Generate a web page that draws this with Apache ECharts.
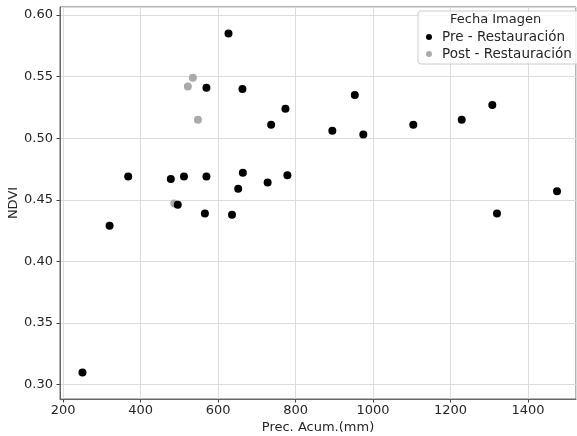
<!DOCTYPE html>
<html>
<head>
<meta charset="utf-8">
<script src="https://cdn.jsdelivr.net/npm/echarts@6/dist/echarts.min.js"></script>
<style>
  html, body { margin: 0; padding: 0; background: #fff; }
  #chart { width: 577px; height: 436px; }
</style>
</head>
<body>
<div id="chart"></div>
<script>
// Pre - Restauración: [Prec. Acum.(mm), NDVI]
var prePrec = [250, 320, 368, 478, 496, 512, 566, 570, 570, 627, 636, 652, 663, 664, 728, 737, 774, 779, 895, 953, 975, 1104, 1229, 1308, 1320, 1475];
var preNdvi = [0.310, 0.429, 0.469, 0.467, 0.446, 0.469, 0.439, 0.469, 0.541, 0.585, 0.438, 0.459, 0.540, 0.472, 0.464, 0.511, 0.524, 0.470, 0.506, 0.535, 0.503, 0.511, 0.515, 0.527, 0.439, 0.457];
// Post - Restauración
var postPrec = [487, 522, 535, 548];
var postNdvi = [0.447, 0.542, 0.549, 0.515];

var seriesNames = ['Pre - Restauración', 'Post - Restauración'];

function pairs(xs, ys) {
    var out = [];
    for (var i = 0; i < xs.length; i++) {
        out.push([xs[i], ys[i]]);
    }
    return out;
}

var fontFam = 'DejaVu Sans';
var txtColor = '#262626';

var myChart = echarts.init(document.getElementById('chart'));
var option = {
    animation: false,
    textStyle: { fontFamily: fontFam },
    title: {
        text: 'Fecha Imagen',
        left: 450,
        top: 13,
        padding: 0,
        textStyle: { fontFamily: fontFam, fontSize: 13, fontWeight: 'normal', color: txtColor }
    },
    legend: {
        data: seriesNames,
        orient: 'vertical',
        left: 418,
        top: 11,
        padding: [19, 10, 3, 8],
        itemGap: 3,
        itemWidth: 6,
        itemHeight: 6,
        icon: 'circle',
        backgroundColor: 'rgba(255,255,255,0.8)',
        borderColor: '#cccccc',
        borderWidth: 1,
        borderRadius: 3,
        textStyle: { fontFamily: fontFam, fontSize: 13.5, color: txtColor, lineHeight: 14, padding: [0, 0, 0, 5] }
    },
    grid: {
        left: 60,
        right: 1,
        top: 7,
        bottom: 37,
        outerBoundsMode: 'none',
        containLabel: false,
        show: true,
        borderColor: '#666',
        borderWidth: 1
    },
    xAxis: {
        type: 'value',
        min: 192,
        max: 1524,
        splitNumber: 7,
        name: 'Prec. Acum.(mm)',
        nameLocation: 'middle',
        nameGap: 22,
        nameMoveOverlap: false,
        nameTextStyle: { fontFamily: fontFam, fontSize: 13, color: txtColor },
        axisLine: { show: true, lineStyle: { color: '#666' } },
        axisTick: { show: true, length: 3.5, lineStyle: { color: '#444' } },
        axisLabel: {
            fontFamily: fontFam, fontSize: 13, color: txtColor, margin: 5,
            showMinLabel: false, showMaxLabel: false,
            formatter: function (v) { return v % 200 === 0 ? String(v) : ''; }
        },
        splitLine: { show: true, lineStyle: { color: '#dcdcdc', width: 1 } }
    },
    yAxis: {
        type: 'value',
        min: 0.2884,
        max: 0.6065,
        splitNumber: 6,
        name: 'NDVI',
        nameLocation: 'middle',
        nameGap: 40,
        nameMoveOverlap: false,
        nameTextStyle: { fontFamily: fontFam, fontSize: 13, color: txtColor },
        axisLine: { show: true, lineStyle: { color: '#666' } },
        axisTick: { show: true, length: 3.5, lineStyle: { color: '#444' } },
        axisLabel: {
            fontFamily: fontFam, fontSize: 13, color: txtColor, margin: 7,
            showMinLabel: false, showMaxLabel: false,
            formatter: function (v) { return v.toFixed(2); }
        },
        splitLine: { show: true, lineStyle: { color: '#dcdcdc', width: 1 } }
    },
    series: [
        {
            name: seriesNames[1],
            type: 'scatter',
            symbolSize: 8,
            itemStyle: { color: '#aaaaaa', opacity: 1 },
            data: pairs(postPrec, postNdvi)
        },
        {
            name: seriesNames[0],
            type: 'scatter',
            symbolSize: 8,
            itemStyle: { color: '#000000', opacity: 1 },
            data: pairs(prePrec, preNdvi)
        }
    ]
};
myChart.setOption(option);
</script>
</body>
</html>
